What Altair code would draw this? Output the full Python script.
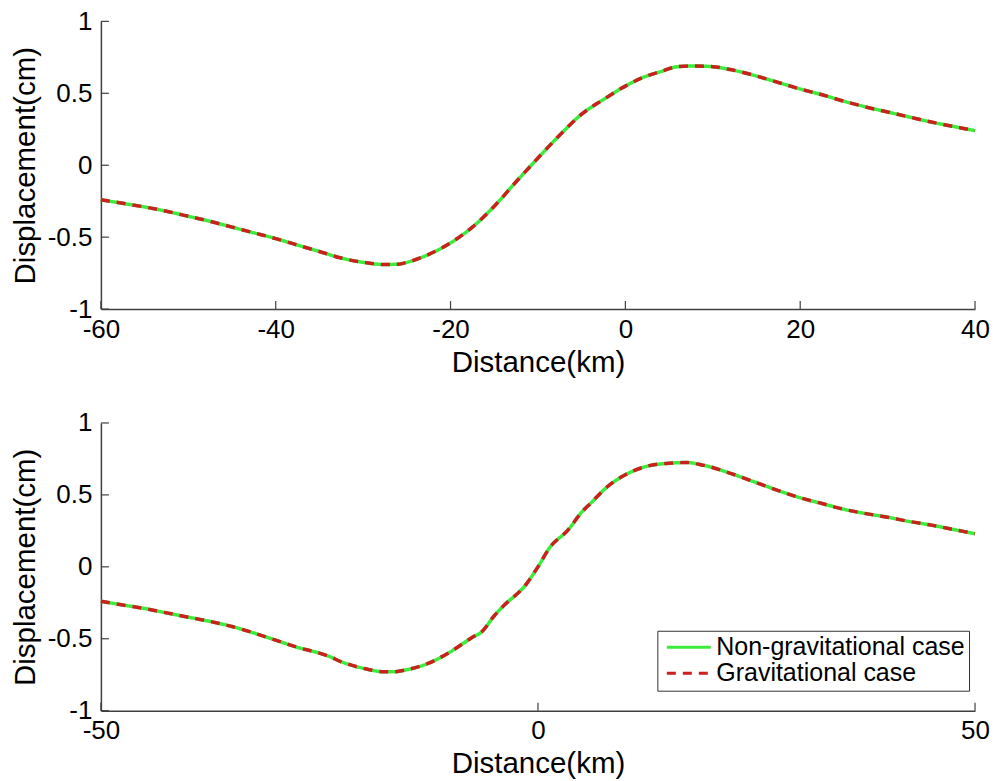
import altair as alt
import pandas as pd

# ---------------- data ----------------
top_x = [-60, -57.5, -55, -52.5, -50, -47.5, -45, -42.5, -40, -37.5, -35, -32.5, -30, -27.5, -26,
         -25, -22.5, -20, -17.5, -15, -12.5, -10, -7.5, -5, -2.5, 0, 2, 4, 6, 8, 10, 12, 15,
         17.5, 20, 22.5, 25, 27.5, 30, 32.5, 35, 37.5, 40]
top_y = [-0.24, -0.265, -0.29, -0.32, -0.355, -0.39, -0.43, -0.47, -0.51, -0.555, -0.60, -0.645,
         -0.675, -0.69, -0.688, -0.675, -0.62, -0.54, -0.43, -0.285, -0.115, 0.05, 0.21, 0.355,
         0.457, 0.55, 0.61, 0.65, 0.685, 0.69, 0.685, 0.665, 0.62, 0.575, 0.53, 0.49, 0.445,
         0.405, 0.37, 0.335, 0.30, 0.27, 0.24]

bot_x = [-50, -47.5, -45, -42.5, -40, -37.5, -35, -32.5, -30, -27.5, -25, -24, -22.5, -20, -17.5,
         -16.5, -15, -12.5, -10, -7.5, -6.4, -5, -4, -1.4, 0, 1.3, 3.5, 5, 6, 8, 10, 12.5, 15, 17,
         19, 22.5, 25, 27.5, 30, 32.5, 35, 37.5, 40, 42.5, 45, 47.5, 50]
bot_y = [-0.24, -0.265, -0.29, -0.32, -0.35, -0.38, -0.415, -0.46, -0.51, -0.56, -0.60, -0.62,
         -0.66, -0.705, -0.73, -0.73, -0.715, -0.67, -0.59, -0.49, -0.45, -0.34, -0.275, -0.125,
         0.0, 0.13, 0.26, 0.38, 0.44, 0.56, 0.64, 0.70, 0.72, 0.725, 0.705, 0.64, 0.585, 0.53,
         0.48, 0.44, 0.40, 0.37, 0.345, 0.315, 0.29, 0.26, 0.23]

series = ["Non-gravitational case", "Gravitational case"]
colors = ["#3cec3c", "#cc1f1f"]
dashes = [[1, 0], [9, 7]]

y_ticks = [-1, -0.5, 0, 0.5, 1]
top_x_ticks = [-60, -40, -20, 0, 20, 40]
bot_x_ticks = [-50, 0, 50]

FONT = "Liberation Sans"
W, H = 875, 288
AX = "#404040"


def long_df(xs, ys):
    rows = []
    for s in series:
        for x, y in zip(xs, ys):
            rows.append({"x": x, "y": y, "series": s})
    return pd.DataFrame(rows)


def panel(xs, ys, xdom, xticks, show_legend):
    df = long_df(xs, ys)
    xscale = alt.Scale(domain=xdom, nice=False, zero=False)
    yscale = alt.Scale(domain=[-1, 1], nice=False, zero=False)
    if show_legend:
        legend = alt.Legend(
            title=None, orient="none", legendX=557, legendY=208,
            symbolType="stroke", symbolSize=1936, symbolStrokeWidth=3,
            labelFont=FONT, labelFontSize=25, labelColor="#000000", labelOffset=4,
            labelLimit=0, clipHeight=25,
            strokeColor="#333333", fillColor="#ffffff", padding=4, rowPadding=0,
            symbolOffset=4,
        )
    else:
        legend = None
    col = alt.Color("series:N", scale=alt.Scale(domain=series, range=colors), legend=legend)
    dash = alt.StrokeDash("series:N", scale=alt.Scale(domain=series, range=dashes), legend=legend)

    xaxis = alt.Axis(values=xticks, title="Distance(km)", ticks=False, tickSize=0, grid=False,
                     labelPadding=7, titlePadding=6, labelFlush=False,
                     labelExpr="toString(datum.value)")
    yaxis = alt.Axis(values=y_ticks, title="Displacement(cm)", ticks=False, tickSize=0, grid=False,
                     labelPadding=9, titlePadding=7, labelFlush=False,
                     labelExpr="toString(datum.value)")

    lines = []
    for s in series:
        lines.append(
            alt.Chart(df).transform_filter(alt.datum.series == s)
            .mark_line(strokeWidth=3.5, interpolate="monotone")
            .encode(x=alt.X("x:Q", scale=xscale, axis=xaxis),
                    y=alt.Y("y:Q", scale=yscale, axis=yaxis),
                    color=col, strokeDash=dash)
        )
    xt = alt.Chart(pd.DataFrame({"t": xticks})).mark_rule(color=AX, strokeWidth=1.2).encode(
        x=alt.X("t:Q", scale=xscale, axis=xaxis), y=alt.value(H), y2=alt.value(H - 8))
    yt = alt.Chart(pd.DataFrame({"t": y_ticks})).mark_rule(color=AX, strokeWidth=1.2).encode(
        y=alt.Y("t:Q", scale=yscale, axis=yaxis), x=alt.value(0), x2=alt.value(8))
    return alt.layer(*lines, xt, yt).properties(width=W, height=H)


top = panel(top_x, top_y, [-60, 40], top_x_ticks, False)
bot = panel(bot_x, bot_y, [-50, 50], bot_x_ticks, True)

chart = alt.vconcat(top, bot, spacing=33).resolve_scale(
    color="independent", strokeDash="independent"
).properties(
    padding={"left": 10, "top": 8, "right": 5, "bottom": 5}, background="white"
).configure_view(stroke=None).configure_axis(
    domainColor=AX, domainWidth=1.5, labelFont=FONT, labelFontSize=26, labelColor="#000000",
    titleFont=FONT, titleFontSize=29.5, titleColor="#000000", titleFontWeight="normal",
)

chart.save("out.html", embed_options={"renderer": "svg", "actions": False})
